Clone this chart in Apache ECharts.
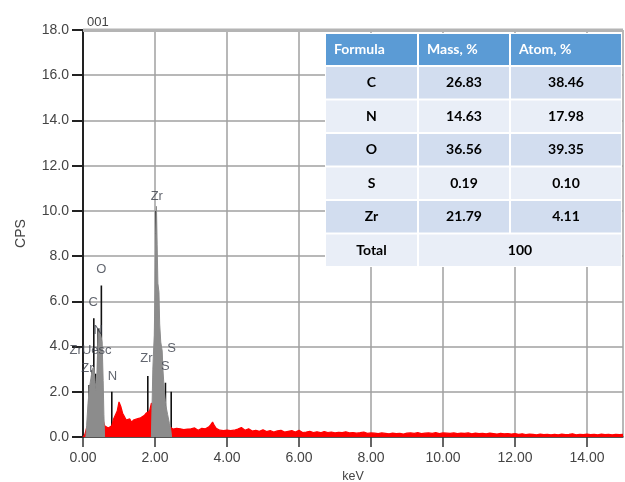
<!DOCTYPE html>
<html><head><meta charset="utf-8">
<script src="https://cdn.jsdelivr.net/npm/echarts@6/dist/echarts.min.js"></script>
<style>html,body{margin:0;padding:0;background:#fff}#c{width:625px;height:482px}</style>
</head><body><div id="c"></div><script>
// Red spectrum 0.00 - 4.00 keV, step 0.05
const redLowStep = 0.05;
const redLow = [0,0.10,0.40,0.60,0.80,0.90,1.00,1.00,1.00,1.00,1.00,0.80,0.50,0.42,0.40,0.45,0.50,0.80,0.75,1.15,
1.55,1.35,1.05,0.90,0.75,0.70,0.80,0.65,0.75,0.70,0.80,0.75,0.85,0.80,0.95,1.05,1.00,1.15,1.50,1.40,
1.20,1.00,0.90,1.10,1.25,1.20,0.80,0.60,0.45,0.40,0.35,0.40,0.38,0.42,0.36,0.40,0.33,0.38,0.35,0.30,
0.36,0.32,0.40,0.34,0.30,0.35,0.38,0.32,0.36,0.40,0.45,0.55,0.66,0.50,0.38,0.35,0.30,0.34,0.28,0.32,0.30];
// Red spectrum 4.1 - 15.0 keV, step 0.1
const redHighStart = 4.1, redHighStep = 0.1;
const redHigh = [0.28,0.30,0.35,0.42,0.30,0.36,0.26,0.30,0.25,0.32,
0.24,0.28,0.22,0.27,0.30,0.22,0.25,0.28,0.22,0.30,
0.20,0.22,0.25,0.20,0.23,0.19,0.24,0.20,0.22,0.18,
0.21,0.19,0.23,0.18,0.20,0.17,0.19,0.22,0.16,0.18,
0.17,0.15,0.18,0.16,0.14,0.17,0.15,0.16,0.13,0.17,
0.18,0.16,0.19,0.15,0.17,0.18,0.16,0.19,0.15,0.18,
0.17,0.16,0.18,0.15,0.17,0.16,0.18,0.14,0.17,0.15,
0.16,0.14,0.17,0.15,0.13,0.16,0.14,0.15,0.13,0.15,
0.12,0.14,0.11,0.13,0.12,0.10,0.13,0.11,0.12,0.10,
0.12,0.10,0.13,0.11,0.12,0.14,0.10,0.12,0.11,0.13,
0.11,0.12,0.10,0.13,0.11,0.12,0.10,0.12,0.11,0.12];
// Fitted peaks (grey)
const grayLow = [[0.08,0],[0.10,0.5],[0.14,1.5],[0.18,2.2],[0.22,2.6],[0.26,3.0],[0.30,3.1],[0.34,2.4],[0.37,2.0],[0.40,3.5],[0.43,4.6],[0.46,4.8],[0.50,4.8],[0.53,4.2],[0.56,2.5],[0.58,1.0],[0.60,0]];
const grayZr = [[1.90,0],[1.92,1.5],[1.94,3.0],[1.96,3.8],[1.98,4.5],[2.00,6.5],[2.02,9.0],[2.04,10.2],[2.06,8.5],[2.08,6.8],[2.11,6.4],[2.13,5.0],[2.16,4.2],[2.20,3.8],[2.22,3.0],[2.26,2.0],[2.30,1.4],[2.35,1.0],[2.40,0.6],[2.44,0.3],[2.46,0]];
// Element marker lines [keV, height]
const markerLines = [[0.17,2.3],[0.25,2.95],[0.30,5.25],[0.35,2.8],[0.42,4.8],[0.51,6.7],[0.80,2.0],[1.80,2.7],[2.03,10.0],[2.29,2.4],[2.45,2.0]];
// Peak labels
const peakLabelText = ['Zr','O','C','N','ZrUesc','Zr','N','Zr','S','S'];
const peakLabelPos = [[2.05,10.65],[0.51,7.4],[0.28,5.97],[0.42,4.72],[0.21,3.84],[0.12,3.04],[0.82,2.69],[1.76,3.48],[2.46,3.92],[2.29,3.1]];
// Table
const tableHeader = ['Formula','Mass, %','Atom, %'];
const tableElements = ['C','N','O','S','Zr'];
const massPct = ['26.83','14.63','36.56','0.19','21.79'];
const atomPct = ['38.46','17.98','39.35','0.10','4.11'];
const totalLabel = 'Total', totalValue = '100';

const redData = redLow.map((v,i)=>[+(i*redLowStep).toFixed(2), v])
  .concat(redHigh.map((v,i)=>[+(redHighStart+i*redHighStep).toFixed(2), v]));

const FONT = '"Liberation Sans", Arial, sans-serif';
const TFONT = 'bold 14px Lato';
const cols = [325, 418, 510, 622];
const tTop = 33, hH = 33, rH = 33.5;
const darkRow = '#d2ddef', lightRow = '#e9eef7', headBlue = '#5b9bd5';
const g = 1;
const els = [];
// top frame band of the plot
els.push({type:'rect', shape:{x:83, y:28.5, width:540, height:3.5}, style:{fill:'#b4b4b4'}, z:50});
const totalH = hH + rH*(tableElements.length+1);
els.push({type:'rect', shape:{x:cols[0], y:tTop, width:cols[3]-cols[0], height:totalH}, style:{fill:'#fff'}, z:100});
for (let c=0;c<3;c++){
  els.push({type:'rect', shape:{x:cols[c]+g, y:tTop+g, width:cols[c+1]-cols[c]-2*g, height:hH-2*g}, style:{fill:headBlue}, z:101});
  els.push({type:'text', x:cols[c]+9, y:tTop+hH/2, style:{text:tableHeader[c], fill:'#fff', font:TFONT, align:'left', verticalAlign:'middle'}, z:102});
}
const rows = tableElements.map((e,i)=>[e, massPct[i], atomPct[i]]);
rows.forEach((r,i)=>{
  const y = tTop + hH + i*rH;
  const fill = i%2===0 ? darkRow : lightRow;
  for (let c=0;c<3;c++){
    els.push({type:'rect', shape:{x:cols[c]+g, y:y+g, width:cols[c+1]-cols[c]-2*g, height:rH-2*g}, style:{fill}, z:101});
    els.push({type:'text', x:(cols[c]+cols[c+1])/2, y:y+rH/2, style:{text:r[c], fill:'#000', font:TFONT, align:'center', verticalAlign:'middle'}, z:102});
  }
});
{
  const y = tTop + hH + tableElements.length*rH;
  const fill = tableElements.length%2===0 ? darkRow : lightRow;
  els.push({type:'rect', shape:{x:cols[0]+g, y:y+g, width:cols[1]-cols[0]-2*g, height:rH-2*g}, style:{fill}, z:101});
  els.push({type:'rect', shape:{x:cols[1]+g, y:y+g, width:cols[3]-cols[1]-2*g, height:rH-2*g}, style:{fill}, z:101});
  els.push({type:'text', x:(cols[0]+cols[1])/2, y:y+rH/2, style:{text:totalLabel, fill:'#000', font:TFONT, align:'center', verticalAlign:'middle'}, z:102});
  els.push({type:'text', x:(cols[1]+cols[3])/2, y:y+rH/2, style:{text:totalValue, fill:'#000', font:TFONT, align:'center', verticalAlign:'middle'}, z:102});
}

const chart = echarts.init(document.getElementById('c'), null, {renderer:'canvas'});
chart.setOption({
  animation:false,
  backgroundColor:'#fff',
  textStyle:{fontFamily:FONT},
  title:{text:'001', left:82, top:11, textStyle:{fontSize:13, fontWeight:'normal', fontFamily:FONT, color:'#444'}},
  grid:{left:83, right:2, top:30, bottom:45, outerBoundsMode:'none', containLabel:false},
  xAxis:[{
    type:'value', min:0, max:15, interval:2,
    name:'keV', nameLocation:'middle', nameGap:33,
    nameTextStyle:{fontFamily:FONT, fontSize:12.5, color:'#444'},
    axisLine:{show:true, onZero:false, lineStyle:{color:'#333', width:1.5}},
    axisTick:{show:true, length:10, lineStyle:{color:'#333', width:1.5}},
    axisLabel:{margin:14, fontFamily:FONT, fontSize:14, color:'#444', showMaxLabel:false,
      formatter:v=>v.toFixed(2)},
    splitLine:{show:true, lineStyle:{color:'#a0a0a0', width:1.5}}
  }],
  yAxis:{
    type:'value', min:0, max:18, interval:2,
    name:'CPS', nameLocation:'middle', nameGap:55, nameRotate:90,
    nameTextStyle:{fontFamily:FONT, fontSize:14, color:'#444'},
    axisLine:{show:true, lineStyle:{color:'#222', width:2}},
    axisTick:{show:true, length:11, lineStyle:{color:'#222', width:2}},
    axisLabel:{margin:14, fontFamily:FONT, fontSize:14, color:'#444', formatter:v=>v.toFixed(1)},
    splitLine:{show:true, lineStyle:{color:'#a0a0a0', width:1.5}}
  },
  series:[
    {type:'custom', z:2, data:markerLines,
     renderItem:(params, api)=>{
       const p0 = api.coord([api.value(0), 0]);
       const p1 = api.coord([api.value(0), api.value(1)]);
       return {type:'line', shape:{x1:p0[0], y1:p0[1], x2:p1[0], y2:p1[1]}, style:{stroke:'#111', lineWidth:1.6}};
     }},
    {type:'line', z:3, data:redData, symbol:'none', lineStyle:{color:'#ff0000', width:1.2}, areaStyle:{color:'#ff0000', opacity:1}},
    {type:'line', z:4, data:grayLow, symbol:'none', lineStyle:{color:'#8c8c8c', width:1}, areaStyle:{color:'#8c8c8c', opacity:1}},
    {type:'line', z:4, data:grayZr, symbol:'none', lineStyle:{color:'#8c8c8c', width:1}, areaStyle:{color:'#8c8c8c', opacity:1}},
    {type:'scatter', z:5, symbolSize:1, itemStyle:{color:'rgba(0,0,0,0)'},
     data:peakLabelPos.map((p,i)=>({name:peakLabelText[i], value:p})),
     label:{show:true, position:'inside', formatter:p=>p.name, fontFamily:FONT, fontSize:13, color:'#3a3f4a'}}
  ],
  graphic:{elements:els}
});
</script></body></html>
